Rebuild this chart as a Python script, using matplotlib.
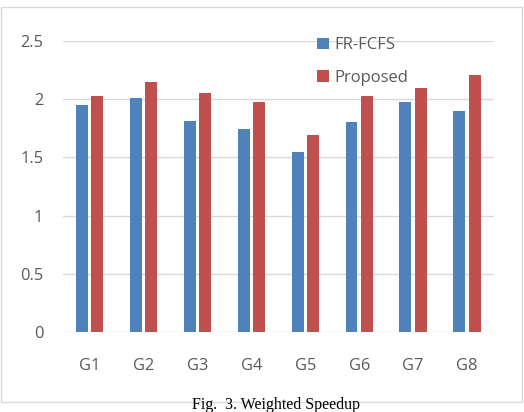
import numpy as np
import matplotlib
matplotlib.use("Agg")
import matplotlib.pyplot as plt
from matplotlib.patches import Rectangle

grupos = ["G1", "G2", "G3", "G4", "G5", "G6", "G7", "G8"]
fr_fcfs = [1.95, 2.01, 1.81, 1.74, 1.545, 1.80, 1.98, 1.90]
proposed = [2.03, 2.15, 2.05, 1.98, 1.69, 2.03, 2.10, 2.21]

azul = "#4f81bd"
vermelho = "#c0504d"
cinza = "#595959"

plt.rcParams["font.family"] = ["Open Sans", "DejaVu Sans"]

fig = plt.figure(figsize=(5.24, 4.12), dpi=100)
ax = fig.add_axes([62.7 / 524, 1 - 332 / 412, (494 - 62.7) / 524, (332 - 41) / 412])

x = np.arange(len(grupos))
w = 0.22
ax.bar(x - 0.143, fr_fcfs, w, color=azul, label="FR-FCFS", zorder=3)
ax.bar(x + 0.143, proposed, w, color=vermelho, label="Proposed", zorder=3)

ax.set_xlim(-0.5, 7.5)
ax.set_ylim(0, 2.5)
ax.set_yticks([0, 0.5, 1, 1.5, 2, 2.5])
ax.set_yticklabels(["0", "0.5", "1", "1.5", "2", "2.5"])
ax.set_xticks(x)
ax.set_xticklabels(grupos)
ax.grid(axis="y", color="#d9d9d9", linewidth=1, zorder=0)
for s in ax.spines.values():
    s.set_visible(False)
ax.tick_params(length=0, labelsize=11.8, labelcolor=cinza)
ax.tick_params(axis="x", pad=19)
ax.tick_params(axis="y", pad=14)

leg = ax.legend(loc="upper left", bbox_to_anchor=(0.575, 1.035), frameon=False,
                fontsize=12, labelspacing=1.0, handlelength=0.7, handleheight=0.7,
                handletextpad=0.3, borderaxespad=0)
for t in leg.get_texts():
    t.set_color(cinza)

fig.patches.append(Rectangle((1 / 524, 1 - 402 / 412), 521 / 524, 395 / 412,
                             transform=fig.transFigure, fill=False,
                             edgecolor="#d9d9d9", linewidth=1))

fig.text(0.527, 1 - 405 / 412, "Fig.  3. Weighted Speedup", ha="center", va="center",
         fontsize=11.5, family="Liberation Serif", color="black")

fig.savefig("out.png", dpi=100)
